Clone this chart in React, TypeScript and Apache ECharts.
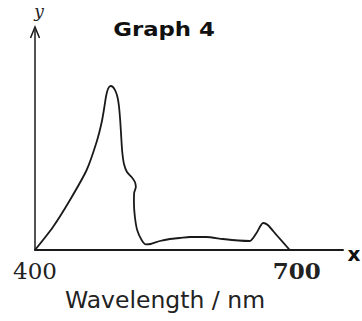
import React, { useEffect, useRef } from "react";
import * as echarts from "echarts";

const wavelengths = [
  400, 420.6, 440.1, 459.2, 470.6, 476.5, 479.5, 481.5, 483.6, 486.5, 489.3, 492.2,
  494.5, 496.2, 497.7, 498.9, 500, 502, 505.4, 510.7, 514.5, 515.6, 513.6, 513.4,
  514.5, 517.1, 522.2, 527.1, 532.5, 543.1, 554.6, 566, 577.5, 596, 615.3, 633,
  646.2, 653.9, 661.4, 666.8, 676.8, 692,
];
const absorbance = [
  0, 23, 50, 80, 108, 128, 143, 154, 161, 164, 163, 159,
  153, 144, 129, 112, 98, 86, 78, 73, 68, 63, 57, 47,
  33, 20, 10, 5.7, 6, 9, 11, 12, 13, 13, 11, 9.5,
  9, 17, 27, 25, 15, 0,
];
const tickLabels = ["400", "700"];
const boldTicks = ["700"];

export default function App() {
  const ref = useRef<HTMLDivElement>(null);
  useEffect(() => {
    if (!ref.current) return;
    const chart = echarts.init(ref.current, null, { renderer: "svg" });
    const data = wavelengths.map((w, i) => [w, absorbance[i]]);
    chart.setOption({
      animation: false,
      backgroundColor: "#ffffff",
      grid: { left: 35, right: 19, top: 30, bottom: 71 },
      xAxis: {
        type: "value",
        min: 400,
        max: 753,
        interval: 100,
        axisLine: { show: true, onZero: false, lineStyle: { color: "#1a1a1a", width: 2 } },
        axisTick: { show: false },
        splitLine: { show: false },
        axisLabel: {
          show: true,
          margin: 9,
          showMaxLabel: false,
          color: "#222",
          fontFamily: "DejaVu Serif",
          fontSize: 23,
          formatter: (v: number) => {
            const s = String(v);
            if (!tickLabels.includes(s)) return "";
            return boldTicks.includes(s) ? `{b|${s}}` : s;
          },
          rich: {
            b: { fontFamily: "DejaVu Serif", fontSize: 23, fontWeight: "bold", color: "#222" },
          },
        },
      },
      yAxis: {
        type: "value",
        min: 0,
        max: 220,
        axisLine: { show: true, lineStyle: { color: "#1a1a1a", width: 1.5 } },
        axisTick: { show: false },
        axisLabel: { show: false },
        splitLine: { show: false },
      },
      series: [
        {
          type: "line",
          data,
          smooth: 0.25,
          showSymbol: false,
          lineStyle: { color: "#1a1a1a", width: 1.8 },
        },
      ],
      graphic: [
        {
          type: "polyline",
          shape: { points: [[30.5, 38], [35, 27], [39.5, 38]] },
          style: { stroke: "#1a1a1a", lineWidth: 1.5, fill: "none" },
        },
        {
          type: "text",
          x: 39,
          y: 11,
          style: {
            text: "y",
            font: "italic 17px 'DejaVu Serif'",
            fill: "#222",
            align: "center",
            verticalAlign: "middle",
          },
        },
        {
          type: "text",
          x: 354,
          y: 254,
          style: {
            text: "x",
            font: "bold 20px 'DejaVu Sans'",
            fill: "#111",
            align: "center",
            verticalAlign: "middle",
          },
        },
        {
          type: "text",
          x: 164,
          y: 30,
          scaleX: 1.2,
          style: {
            text: "Graph 4",
            font: "bold 19px 'DejaVu Sans'",
            fill: "#111",
            align: "center",
            verticalAlign: "middle",
          },
        },
        {
          type: "text",
          x: 165,
          y: 300,
          style: {
            text: "Wavelength / nm",
            font: "23.5px 'DejaVu Sans'",
            fill: "#222",
            align: "center",
            verticalAlign: "middle",
          },
        },
      ],
    });
    return () => chart.dispose();
  }, []);
  return (
    <div
      ref={ref}
      style={{ position: "fixed", left: 0, top: 0, width: 362, height: 321, background: "#fff" }}
    />
  );
}
